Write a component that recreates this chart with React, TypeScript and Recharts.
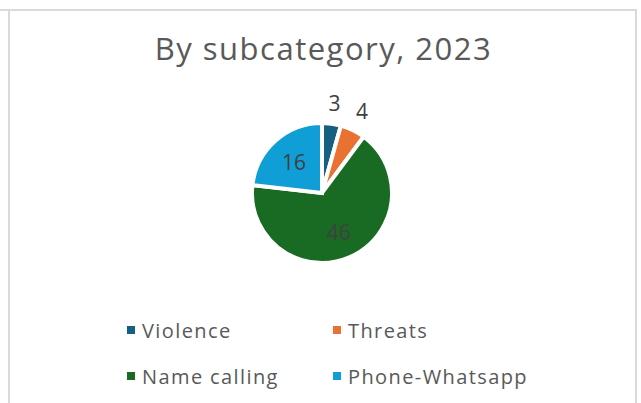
import { PieChart, Pie, Cell, Legend } from "recharts";

const categories = ["Violence", "Threats", "Name calling", "Phone-Whatsapp"];
const counts = [3, 4, 46, 16];
const colors = ["#156082", "#E97132", "#196B24", "#0F9ED5"];

const data = categories.map((name, i) => ({ name, value: counts[i] }));

const RAD = Math.PI / 180;

function renderLabel(props: any) {
  const { cx, cy, midAngle, outerRadius, percent, value } = props;
  // small slices get their label outside, like Excel's best fit
  const r = percent < 0.1 ? outerRadius * 1.3 : outerRadius * 0.6;
  const x = cx + r * Math.cos(-midAngle * RAD);
  const y = cy + r * Math.sin(-midAngle * RAD);
  return (
    <text
      x={x}
      y={y}
      fill="#404040"
      fontSize={21}
      textAnchor="middle"
      dominantBaseline="central"
      fontFamily="'Open Sans', sans-serif"
    >
      {value}
    </text>
  );
}

function LegendGrid() {
  const cols = [127, 333];
  const rows = [330, 376];
  return (
    <div style={{ position: "absolute", left: 0, top: 0 }}>
      {categories.map((name, i) => (
        <div
          key={name}
          style={{
            position: "absolute",
            left: cols[i % 2],
            top: rows[Math.floor(i / 2)] - 13,
            display: "flex",
            alignItems: "center",
            whiteSpace: "nowrap",
            fontSize: 20,
            letterSpacing: 1.4,
            color: "#595959",
            fontFamily: "'Open Sans', sans-serif",
            height: 26,
          }}
        >
          <span
            style={{
              display: "inline-block",
              width: 8,
              height: 8,
              background: colors[i],
              marginRight: 7,
            }}
          />
          {name}
        </div>
      ))}
    </div>
  );
}

export default function App() {
  return (
    <div
      style={{
        position: "fixed",
        left: 0,
        top: 0,
        width: 641,
        height: 403,
        background: "#fff",
        overflow: "hidden",
      }}
    >
      <div
        style={{
          position: "absolute",
          left: 0,
          top: 9,
          width: 636,
          borderTop: "2px solid #D9D9D9",
        }}
      />
      <div
        style={{
          position: "absolute",
          left: 8,
          top: 9,
          width: 625,
          height: 400,
          borderLeft: "2px solid #D9D9D9",
          borderRight: "2px solid #D9D9D9",
        }}
      />
      <div
        style={{
          position: "absolute",
          left: 0,
          width: 641,
          top: 27,
          textAlign: "center",
          fontSize: 31,
          letterSpacing: 1.5,
          color: "#595959",
          fontFamily: "'Open Sans', sans-serif",
          paddingLeft: 3,
        }}
      >
        By subcategory, 2023
      </div>
      <PieChart
        width={641}
        height={403}
        margin={{ top: 0, right: 0, bottom: 0, left: 0 }}
        style={{ position: "absolute", left: 0, top: 0 }}
      >
        <Pie
          data={data}
          dataKey="value"
          nameKey="name"
          cx={322}
          cy={193}
          outerRadius={70}
          startAngle={90}
          endAngle={-270}
          stroke="#fff"
          strokeWidth={4}
          label={renderLabel}
          labelLine={false}
          isAnimationActive={false}
        >
          {data.map((d, i) => (
            <Cell key={d.name} fill={colors[i]} />
          ))}
        </Pie>
        <Legend content={() => <LegendGrid />} wrapperStyle={{ left: 0, top: 0 }} />
      </PieChart>
    </div>
  );
}
